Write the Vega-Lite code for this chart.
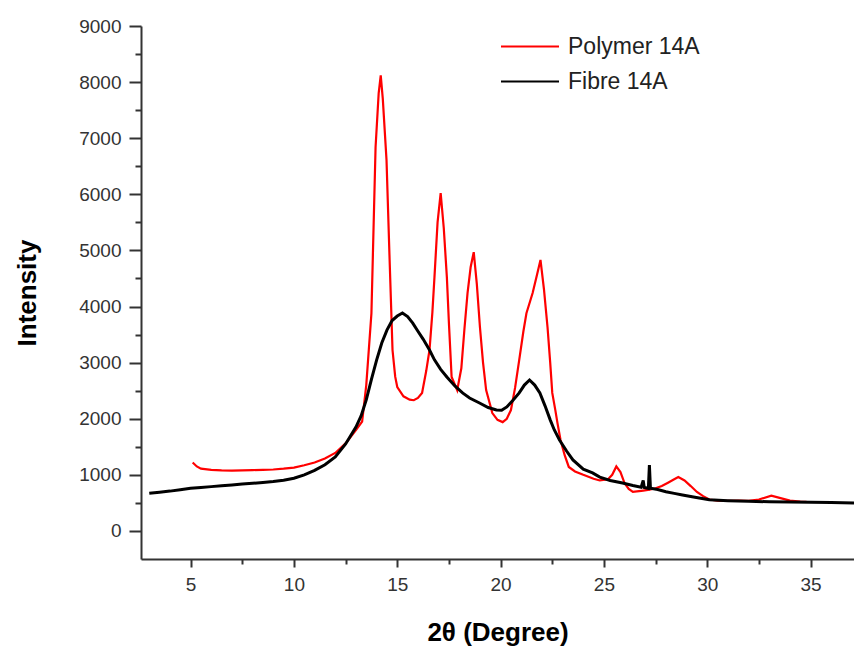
{
  "$schema": "https://vega.github.io/schema/vega-lite/v6.json",
  "width": 713,
  "height": 533,
  "autosize": {"type": "none"},
  "padding": {"left": 141, "top": 26, "right": 0, "bottom": 89},
  "background": "white",
  "config": {
    "view": {"stroke": null},
    "font": "Liberation Sans"
  },
  "datasets": {
    "polymer": [
      {"t": 5.1, "i": 1220}, {"t": 5.3, "i": 1150}, {"t": 5.5, "i": 1110}, {"t": 6.0, "i": 1090},
      {"t": 6.5, "i": 1080}, {"t": 7.0, "i": 1075}, {"t": 7.5, "i": 1080}, {"t": 8.0, "i": 1085},
      {"t": 8.5, "i": 1090}, {"t": 9.0, "i": 1095}, {"t": 9.5, "i": 1110}, {"t": 10.0, "i": 1130},
      {"t": 10.5, "i": 1170}, {"t": 11.0, "i": 1220}, {"t": 11.5, "i": 1290}, {"t": 12.0, "i": 1390},
      {"t": 12.5, "i": 1560}, {"t": 13.0, "i": 1800}, {"t": 13.3, "i": 1950}, {"t": 13.5, "i": 2600},
      {"t": 13.75, "i": 3880}, {"t": 13.95, "i": 6840}, {"t": 14.1, "i": 7800}, {"t": 14.2, "i": 8120},
      {"t": 14.3, "i": 7700}, {"t": 14.48, "i": 6610}, {"t": 14.63, "i": 4830}, {"t": 14.77, "i": 3225},
      {"t": 14.9, "i": 2750}, {"t": 15.0, "i": 2565}, {"t": 15.3, "i": 2400}, {"t": 15.6, "i": 2340},
      {"t": 15.8, "i": 2330}, {"t": 16.0, "i": 2370}, {"t": 16.2, "i": 2460}, {"t": 16.4, "i": 2850},
      {"t": 16.56, "i": 3225}, {"t": 16.7, "i": 3900}, {"t": 16.8, "i": 4525}, {"t": 16.95, "i": 5500},
      {"t": 17.1, "i": 6020}, {"t": 17.25, "i": 5400}, {"t": 17.4, "i": 4525}, {"t": 17.5, "i": 3700},
      {"t": 17.63, "i": 2745}, {"t": 17.9, "i": 2510}, {"t": 18.1, "i": 2900}, {"t": 18.25, "i": 3600},
      {"t": 18.4, "i": 4240}, {"t": 18.55, "i": 4700}, {"t": 18.7, "i": 4970}, {"t": 18.85, "i": 4400},
      {"t": 19.0, "i": 3635}, {"t": 19.15, "i": 3000}, {"t": 19.3, "i": 2510}, {"t": 19.6, "i": 2100},
      {"t": 19.85, "i": 1980}, {"t": 20.1, "i": 1940}, {"t": 20.3, "i": 2000}, {"t": 20.5, "i": 2155},
      {"t": 20.7, "i": 2550}, {"t": 20.9, "i": 3045}, {"t": 21.1, "i": 3550}, {"t": 21.25, "i": 3880},
      {"t": 21.55, "i": 4240}, {"t": 21.75, "i": 4550}, {"t": 21.93, "i": 4830}, {"t": 22.1, "i": 4300},
      {"t": 22.27, "i": 3635}, {"t": 22.4, "i": 3000}, {"t": 22.5, "i": 2460}, {"t": 22.65, "i": 2150},
      {"t": 22.75, "i": 1925}, {"t": 22.9, "i": 1620}, {"t": 23.1, "i": 1350}, {"t": 23.3, "i": 1140},
      {"t": 23.6, "i": 1060}, {"t": 24.0, "i": 1000}, {"t": 24.5, "i": 930}, {"t": 24.8, "i": 900},
      {"t": 25.2, "i": 920}, {"t": 25.4, "i": 1000}, {"t": 25.6, "i": 1150}, {"t": 25.8, "i": 1050},
      {"t": 26.0, "i": 850}, {"t": 26.2, "i": 750}, {"t": 26.4, "i": 695}, {"t": 26.7, "i": 710},
      {"t": 26.9, "i": 720}, {"t": 27.2, "i": 735}, {"t": 27.5, "i": 760}, {"t": 27.8, "i": 800},
      {"t": 28.1, "i": 860}, {"t": 28.4, "i": 920}, {"t": 28.6, "i": 960}, {"t": 28.9, "i": 900},
      {"t": 29.2, "i": 800}, {"t": 29.5, "i": 695}, {"t": 29.8, "i": 620}, {"t": 30.1, "i": 560},
      {"t": 30.5, "i": 540}, {"t": 31.0, "i": 535}, {"t": 31.5, "i": 540}, {"t": 32.0, "i": 535},
      {"t": 32.5, "i": 560}, {"t": 33.1, "i": 630}, {"t": 33.5, "i": 590}, {"t": 34.0, "i": 540},
      {"t": 34.5, "i": 525}, {"t": 34.8, "i": 520}
    ],
    "fibre": [
      {"t": 3.0, "i": 670}, {"t": 3.5, "i": 690}, {"t": 4.0, "i": 710}, {"t": 4.5, "i": 735},
      {"t": 5.0, "i": 760}, {"t": 5.5, "i": 775}, {"t": 6.0, "i": 790}, {"t": 6.5, "i": 805},
      {"t": 7.0, "i": 820}, {"t": 7.5, "i": 835}, {"t": 8.0, "i": 850}, {"t": 8.5, "i": 865},
      {"t": 9.0, "i": 880}, {"t": 9.5, "i": 905}, {"t": 10.0, "i": 940}, {"t": 10.5, "i": 1000},
      {"t": 11.0, "i": 1080}, {"t": 11.5, "i": 1180}, {"t": 12.0, "i": 1320}, {"t": 12.5, "i": 1550},
      {"t": 13.0, "i": 1850}, {"t": 13.25, "i": 2050}, {"t": 13.5, "i": 2335}, {"t": 13.75, "i": 2700},
      {"t": 14.0, "i": 3045}, {"t": 14.25, "i": 3350}, {"t": 14.5, "i": 3580}, {"t": 14.75, "i": 3750},
      {"t": 15.0, "i": 3830}, {"t": 15.25, "i": 3885}, {"t": 15.5, "i": 3820}, {"t": 15.75, "i": 3705},
      {"t": 16.0, "i": 3560}, {"t": 16.25, "i": 3420}, {"t": 16.56, "i": 3225}, {"t": 16.8, "i": 3050},
      {"t": 17.1, "i": 2880}, {"t": 17.4, "i": 2745}, {"t": 17.8, "i": 2580}, {"t": 18.16, "i": 2460},
      {"t": 18.5, "i": 2370}, {"t": 18.98, "i": 2280}, {"t": 19.4, "i": 2200}, {"t": 19.8, "i": 2155},
      {"t": 20.05, "i": 2150}, {"t": 20.3, "i": 2210}, {"t": 20.6, "i": 2330}, {"t": 20.9, "i": 2460},
      {"t": 21.15, "i": 2600}, {"t": 21.4, "i": 2690}, {"t": 21.65, "i": 2600}, {"t": 21.9, "i": 2460},
      {"t": 22.15, "i": 2230}, {"t": 22.4, "i": 1980}, {"t": 22.6, "i": 1800}, {"t": 22.85, "i": 1620},
      {"t": 23.2, "i": 1420}, {"t": 23.5, "i": 1265}, {"t": 24.0, "i": 1100}, {"t": 24.45, "i": 1035},
      {"t": 24.8, "i": 960}, {"t": 25.3, "i": 900}, {"t": 25.9, "i": 855}, {"t": 26.4, "i": 810},
      {"t": 26.8, "i": 780}, {"t": 26.9, "i": 900}, {"t": 26.95, "i": 775}, {"t": 27.15, "i": 760},
      {"t": 27.2, "i": 1175}, {"t": 27.25, "i": 760}, {"t": 27.6, "i": 740}, {"t": 28.0, "i": 700},
      {"t": 28.4, "i": 670}, {"t": 28.8, "i": 640}, {"t": 29.4, "i": 600}, {"t": 30.1, "i": 555},
      {"t": 31.0, "i": 540}, {"t": 32.0, "i": 530}, {"t": 33.0, "i": 520}, {"t": 34.0, "i": 515},
      {"t": 35.0, "i": 510}, {"t": 36.0, "i": 505}, {"t": 37.1, "i": 500}
    ]
  },
  "encoding": {
    "x": {
      "field": "t", "type": "quantitative",
      "scale": {"domain": [2.6, 37.1], "nice": false, "zero": false},
      "axis": {
        "title": "2θ (Degree)",
        "titleFont": "Liberation Sans", "titleFontSize": 26, "titleFontWeight": "bold", "titleColor": "#000",
        "titlePadding": 25,
        "values": [2.5, 5, 7.5, 10, 12.5, 15, 17.5, 20, 22.5, 25, 27.5, 30, 32.5, 35],
        "labelExpr": "datum.value % 5 === 0 ? datum.value : ''",
        "tickSize": {"condition": {"test": "datum.value % 5 === 0", "value": 8}, "value": 5},
        "grid": false,
        "domainColor": "#333", "domainWidth": 2,
        "tickColor": "#333", "tickWidth": 2,
        "labelFont": "Liberation Sans", "labelFontSize": 19, "labelColor": "#333",
        "labelPadding": 8
      }
    },
    "y": {
      "field": "i", "type": "quantitative",
      "scale": {"domain": [-500, 9000], "nice": false, "zero": false},
      "axis": {
        "title": "Intensity",
        "titleFont": "Liberation Sans", "titleFontSize": 26, "titleFontWeight": "bold", "titleColor": "#000",
        "titlePadding": 38,
        "values": [0, 500, 1000, 1500, 2000, 2500, 3000, 3500, 4000, 4500, 5000, 5500, 6000, 6500, 7000, 7500, 8000, 8500, 9000],
        "labelExpr": "datum.value % 1000 === 0 ? datum.value : ''",
        "tickSize": {"condition": {"test": "datum.value % 1000 === 0", "value": 12}, "value": 6},
        "grid": false,
        "domainColor": "#333", "domainWidth": 2,
        "tickColor": "#333", "tickWidth": 2,
        "labelFont": "Liberation Sans", "labelFontSize": 19, "labelColor": "#333",
        "labelPadding": 8
      }
    }
  },
  "layer": [
    {
      "data": {"name": "polymer"},
      "transform": [{"calculate": "'Polymer 14A'", "as": "series"}],
      "mark": {"type": "line", "strokeWidth": 2.2, "clip": true},
      "encoding": {
        "color": {
          "field": "series", "type": "nominal",
          "scale": {"domain": ["Polymer 14A", "Fibre 14A"], "range": ["#ff0000", "#000000"]},
          "legend": {
            "title": null,
            "orient": "none",
            "legendX": 359,
            "legendY": 4,
            "padding": 0,
            "symbolType": "stroke",
            "symbolSize": 3364,
            "symbolStrokeWidth": 2,
            "labelFont": "Liberation Sans",
            "labelFontSize": 23,
            "labelColor": "#222",
            "labelOffset": 8,
            "clipHeight": 33,
            "rowPadding": 2
          }
        }
      }
    },
    {
      "data": {"name": "fibre"},
      "transform": [{"calculate": "'Fibre 14A'", "as": "series"}],
      "mark": {"type": "line", "strokeWidth": 3, "clip": true},
      "encoding": {
        "color": {"field": "series", "type": "nominal"}
      }
    }
  ]
}
